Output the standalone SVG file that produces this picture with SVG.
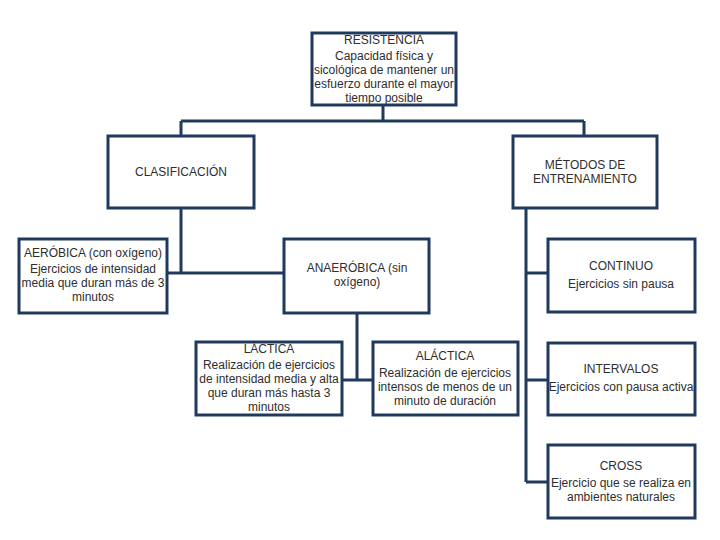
<svg xmlns="http://www.w3.org/2000/svg" width="720" height="540" viewBox="0 0 720 540">
<style>
.box{fill:#fff;stroke:#1f3a5c;stroke-width:3}
.ln{fill:none;stroke:#1f3a5c;stroke-width:3}
text{font-family:"Liberation Sans",Arial,sans-serif;font-size:12px;fill:#2e2e2e;text-anchor:middle}
</style>
<rect width="720" height="540" fill="#fff"/>
<g id="connectors">
<path class="ln" d="M383 105V121M181 121H584M181 121V137M584 121V137"/>
<path class="ln" d="M181 208V273M167 273H284"/>
<path class="ln" d="M357 313V380M342 380H373"/>
<path class="ln" d="M526 208V482M526 273H548M526 380H548M526 482H548"/>
</g>
<g id="resistencia">
<rect class="box" x="312" y="33" width="144" height="72"/>
<text x="384" y="44">RESISTENCIA</text>
<text x="384" y="60">Capacidad física y</text>
<text x="384" y="74">sicológica de mantener un</text>
<text x="384" y="88">esfuerzo durante el mayor</text>
<text x="384" y="102">tiempo posible</text>
</g>
<g id="clasificacion">
<rect class="box" x="108" y="136" width="146" height="72"/>
<text x="181" y="176">CLASIFICACIÓN</text>
</g>
<g id="metodos">
<rect class="box" x="513" y="136" width="144" height="72"/>
<text x="585" y="169">MÉTODOS DE</text>
<text x="585" y="183">ENTRENAMIENTO</text>
</g>
<g id="aerobica">
<rect class="box" x="19" y="239" width="148" height="74"/>
<text x="93" y="257">AERÓBICA (con oxígeno)</text>
<text x="93" y="273">Ejercicios de intensidad</text>
<text x="93" y="287">media que duran más de 3</text>
<text x="93" y="301">minutos</text>
</g>
<g id="anaerobica">
<rect class="box" x="284" y="239" width="145" height="74"/>
<text x="357" y="272">ANAERÓBICA (sin</text>
<text x="357" y="286">oxígeno)</text>
</g>
<g id="continuo">
<rect class="box" x="548" y="239" width="147" height="73"/>
<text x="621" y="270">CONTINUO</text>
<text x="621" y="288">Ejercicios sin pausa</text>
</g>
<g id="lactica">
<rect class="box" x="196" y="342" width="146" height="73"/>
<text x="269" y="353">LÁCTICA</text>
<text x="269" y="369">Realización de ejercicios</text>
<text x="269" y="383">de intensidad media y  alta</text>
<text x="269" y="397">que duran más hasta 3</text>
<text x="269" y="411">minutos</text>
</g>
<g id="alactica">
<rect class="box" x="373" y="342" width="145" height="73"/>
<text x="445" y="360">ALÁCTICA</text>
<text x="445" y="377">Realización de ejercicios</text>
<text x="445" y="391">intensos de menos de un</text>
<text x="445" y="405">minuto de duración</text>
</g>
<g id="intervalos">
<rect class="box" x="548" y="343" width="147" height="72"/>
<text x="621" y="373">INTERVALOS</text>
<text x="621" y="391">Ejercicios con pausa activa</text>
</g>
<g id="cross">
<rect class="box" x="548" y="445" width="147" height="73"/>
<text x="621" y="470">CROSS</text>
<text x="621" y="487">Ejercicio que se realiza en</text>
<text x="621" y="501">ambientes naturales</text>
</g>
</svg>
